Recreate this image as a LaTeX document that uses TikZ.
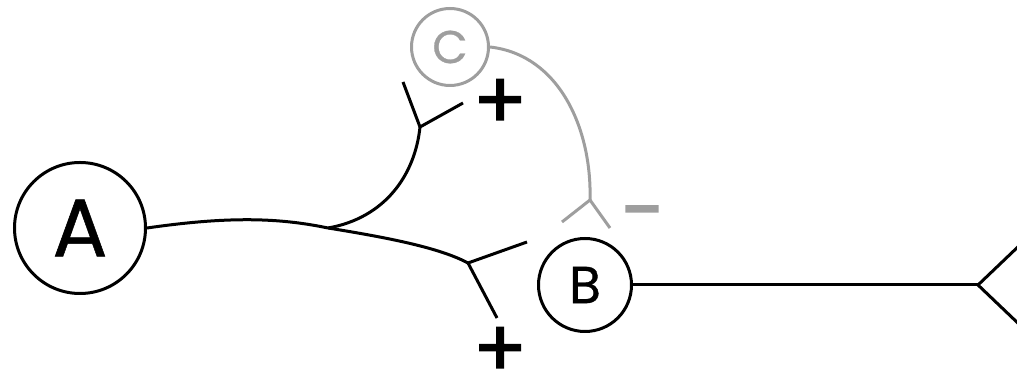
\documentclass[tikz,border=0pt]{standalone}
\usepackage{fontspec}
\setmainfont{Poppins}
\newfontfamily\signfont[FakeBold=1.5]{Poppins}
\newfontfamily\genefont[FakeBold=0.6]{Poppins}
\usetikzlibrary{positioning}
\definecolor{inhibgrey}{RGB}{158,158,158}

\begin{document}
\begin{tikzpicture}[
            x=0.5pt, y=-0.5pt,
            % Stili dei nodi
            gene/.style={circle, draw=black, line width=1.5pt, inner sep=0pt, text=black},
            link/.style={line width=1.5pt, draw=black},
            sign/.style={inner sep=0pt, font=\fontsize{40}{40}\signfont}
        ]
        \useasboundingbox (0,0) rectangle (1017,383);
        \clip (0,0) rectangle (1017,383);

        % Nodi
        \node (A) [gene, minimum size=65.5pt, font=\fontsize{41}{41}\genefont] at (80,228) {A};
        \node (B) [gene, minimum size=46.5pt, font=\fontsize{26}{26}\genefont] at (585,285) {B};
        \node (C) [gene, draw=inhibgrey, text=inhibgrey, minimum size=38.5pt, font=\fontsize{23}{23}\genefont] at (450,47) {C};

        % Biforcazioni
        \coordinate (split) at (328,228);
        \coordinate (forkup) at (420,127);
        \coordinate (forklow) at (468,263);
        \coordinate (forkgrey) at (590,200);
        \coordinate (forkright) at (978,285);

        % Segni
        \node (plusup) [sign] at (500,104) {+};
        \node (pluslow) [sign] at (500,352) {+};
        \node (minus) [sign, text=inhibgrey] at (642,222) {−};

        % Collegamenti
        \draw [link] (A.east) .. controls (230,216) and (280,218) .. (split);
        \draw [link] (split) .. controls (385,218) and (415,175) .. (forkup);
        \draw [link] (forkup) -- (403,82) (forkup) -- (463,103);
        \draw [link] (split) .. controls (390,238) and (440,248) .. (forklow);
        \draw [link] (forklow) -- (527,242) (forklow) -- (497,318);

        \draw [link, draw=inhibgrey] (C.east) .. controls (560,55) and (592,130) .. (forkgrey);
        \draw [link, draw=inhibgrey] (forkgrey) -- (562,222) (forkgrey) -- (610,228);

        \draw [link] (B.east) -- (forkright);
        \draw [link] (forkright) -- (1022,243) (forkright) -- (1022,327);

    \end{tikzpicture}
\end{document}
